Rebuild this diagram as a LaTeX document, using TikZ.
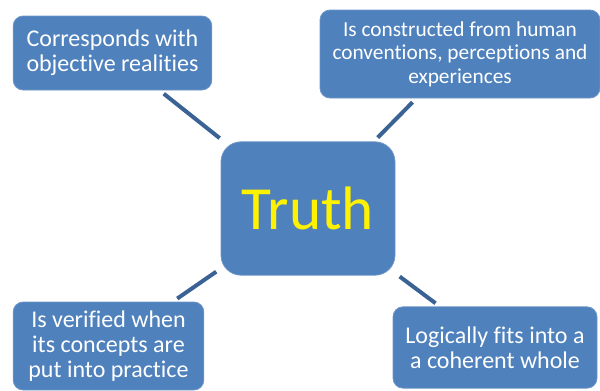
\documentclass[tikz,border=0pt]{standalone}
\usepackage{fontspec}
\setmainfont[Ligatures=NoCommon]{Carlito}
\definecolor{boxblue}{RGB}{79,129,189}
\definecolor{boxedge}{RGB}{110,150,200}
\definecolor{linkblue}{RGB}{58,98,148}

\begin{document}
\begin{tikzpicture}[x=0.75pt,y=-0.75pt]
            \tikzset{idea/.style={fill=boxblue, draw=boxedge, line width=0.6pt, rounded corners=7.5pt,
                text=white, font=\fontsize{18}{19}\selectfont, align=center, inner sep=2pt}}
            \tikzset{link/.style={draw=linkblue, line width=3pt, shorten <=4pt, shorten >=4pt}}
            \useasboundingbox (0,0) rectangle (600,390);
            \node[idea, rounded corners=15pt, minimum width=130.5pt, minimum height=100pt,
                  text=yellow, font=\fontsize{46}{50}\selectfont] (truth) at (308,208.5) {Truth};
            \node[idea, minimum width=149pt, minimum height=55.5pt] (corr) at (112.5,53) {Corresponds with\\objective realities};
            \node[idea, minimum width=210pt, minimum height=66pt,
                  font=\fontsize{16}{17.5}\selectfont] (cons) at (460,54) {Is constructed from human\\conventions, perceptions and\\experiences};
            \node[idea, minimum width=143pt, minimum height=66pt] (veri) at (108.5,346) {Is verified when\\its concepts are\\put into practice};
            \node[idea, minimum width=153pt, minimum height=61pt] (logi) at (495,347.5) {Logically fits into a\\a coherent whole};

            \draw[link] (corr) -- (truth);
            \draw[link] (cons) -- (truth);
            \draw[link] (truth) -- (veri);
            \draw[link] (truth) -- (logi);
\end{tikzpicture}
\end{document}
